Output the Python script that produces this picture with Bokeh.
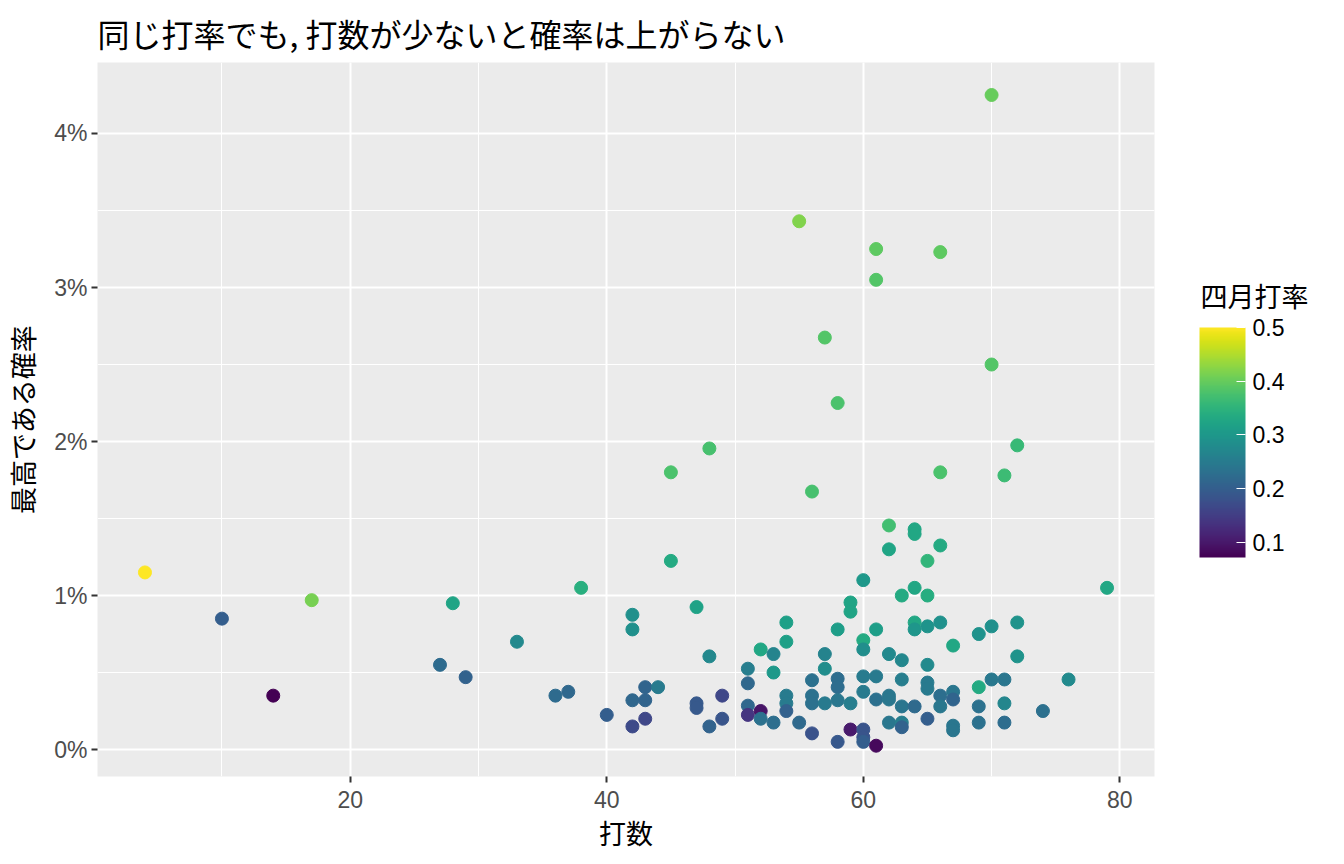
from bokeh.plotting import figure
from bokeh.models import (ColumnDataSource, Range1d, SingleIntervalTicker, NumeralTickFormatter,
                          LinearColorMapper, ColorBar, FixedTicker)
from bokeh.palettes import Viridis256
from bokeh.transform import linear_cmap
from bokeh.embed import file_html
from bokeh.resources import INLINE

# ---- data ----
at_bats = [4, 10, 14, 17, 27, 28, 29, 33, 36, 37, 38, 40,
           42, 42, 42, 42, 43, 43, 43, 44, 45, 45, 47, 47, 47,
           48, 48, 48, 49, 49, 51, 51, 51, 51, 52, 52, 52, 53, 53, 53,
           54, 54, 54, 54, 54, 55, 55, 56, 56, 56, 56, 56,
           57, 57, 57, 57, 58, 58, 58, 58, 58, 58, 59, 59, 59, 59,
           60, 60, 60, 60, 60, 60, 60, 60, 61, 61, 61, 61, 61, 61,
           62, 62, 62, 62, 62, 62, 63, 63, 63, 63, 63, 63,
           64, 64, 64, 64, 64, 64, 65, 65, 65, 65, 65, 65, 65,
           66, 66, 66, 66, 66, 66, 67, 67, 67, 67, 67,
           69, 69, 69, 69, 70, 70, 70, 70, 71, 71, 71, 71,
           72, 72, 72, 74, 76, 79]
prob_pct = [1.15, 0.85, 0.35, 0.97, 0.55, 0.95, 0.47, 0.70, 0.35, 0.375, 1.05, 0.225,
            0.875, 0.78, 0.32, 0.15, 0.405, 0.32, 0.20, 0.405, 1.80, 1.225, 0.925, 0.30, 0.27,
            1.955, 0.605, 0.15, 0.35, 0.20, 0.525, 0.43, 0.285, 0.225, 0.65, 0.25, 0.20, 0.62, 0.50, 0.175,
            0.825, 0.70, 0.35, 0.30, 0.25, 3.43, 0.175, 1.675, 0.45, 0.35, 0.30, 0.105,
            2.675, 0.62, 0.525, 0.30, 2.25, 0.78, 0.46, 0.405, 0.32, 0.05, 0.955, 0.895, 0.30, 0.13,
            1.10, 0.71, 0.65, 0.475, 0.375, 0.13, 0.08, 0.05, 3.25, 3.05, 0.78, 0.475, 0.325, 0.025,
            1.455, 1.30, 0.62, 0.35, 0.325, 0.175, 1.00, 0.58, 0.455, 0.28, 0.175, 0.145,
            1.43, 1.40, 1.05, 0.825, 0.78, 0.28, 1.225, 1.00, 0.80, 0.55, 0.435, 0.395, 0.20,
            3.23, 1.80, 1.325, 0.825, 0.35, 0.28, 0.675, 0.375, 0.325, 0.155, 0.125,
            0.75, 0.405, 0.28, 0.175, 4.25, 2.50, 0.80, 0.455, 1.78, 0.455, 0.30, 0.175,
            1.975, 0.825, 0.605, 0.25, 0.455, 1.05]
april_avg = [0.500, 0.200, 0.0714, 0.412, 0.222, 0.321, 0.207, 0.273, 0.222, 0.216, 0.342, 0.200,
             0.286, 0.286, 0.214, 0.167, 0.209, 0.209, 0.163, 0.250, 0.378, 0.333, 0.319, 0.191, 0.191,
             0.375, 0.271, 0.208, 0.163, 0.184, 0.255, 0.216, 0.216, 0.137, 0.327, 0.096, 0.231, 0.264, 0.302, 0.226,
             0.315, 0.315, 0.250, 0.250, 0.204, 0.418, 0.218, 0.375, 0.232, 0.232, 0.232, 0.179,
             0.386, 0.263, 0.281, 0.246, 0.379, 0.310, 0.224, 0.224, 0.241, 0.190, 0.322, 0.322, 0.254, 0.102,
             0.300, 0.333, 0.283, 0.250, 0.250, 0.183, 0.183, 0.200, 0.393, 0.385, 0.311, 0.246, 0.230, 0.082,
             0.371, 0.323, 0.274, 0.242, 0.242, 0.242, 0.333, 0.270, 0.254, 0.238, 0.254, 0.206,
             0.328, 0.328, 0.328, 0.328, 0.297, 0.219, 0.354, 0.338, 0.292, 0.277, 0.246, 0.246, 0.200,
             0.394, 0.379, 0.333, 0.288, 0.227, 0.242, 0.328, 0.239, 0.209, 0.239, 0.239,
             0.290, 0.333, 0.232, 0.232, 0.400, 0.386, 0.286, 0.243, 0.366, 0.239, 0.268, 0.225,
             0.361, 0.292, 0.292, 0.230, 0.276, 0.329]
x_ticks_interval = 20
y_ticks_interval = 0.01
legend_ticks = [0.1, 0.2, 0.3, 0.4, 0.5]

title_text = "同じ打率でも, 打数が少ないと確率は上がらない"
x_title = "打数"
y_title = "最高である確率"
legend_title = "四月打率"

JP = "Noto Sans CJK JP"
LAT = "Liberation Sans"

src = ColumnDataSource(dict(x=at_bats, y=[v / 100 for v in prob_pct], avg=april_avg))

lo, hi = min(april_avg), max(april_avg)
mapper = LinearColorMapper(palette=Viridis256, low=lo, high=hi)

p = figure(frame_width=1057, frame_height=714, output_backend="svg", toolbar_location=None,
           x_range=Range1d(0.3, 82.7), y_range=Range1d(-0.00175, 0.04461),
           min_border_left=88, min_border_right=183, min_border_top=62, min_border_bottom=66,
           background_fill_color="#EBEBEB", border_fill_color="white")
p.outline_line_color = None

p.scatter("x", "y", source=src, size=13,
          color=linear_cmap("avg", Viridis256, lo, hi))

# axes
p.xaxis.ticker = SingleIntervalTicker(interval=x_ticks_interval, num_minor_ticks=2)
p.yaxis.ticker = SingleIntervalTicker(interval=y_ticks_interval, num_minor_ticks=2)
p.yaxis.formatter = NumeralTickFormatter(format="0%")
for ax in (p.xaxis, p.yaxis):
    ax.axis_line_color = None
    ax.major_tick_line_color = "#333333"
    ax.major_tick_line_width = 2
    ax.major_tick_out = 6
    ax.major_tick_in = 0
    ax.minor_tick_line_color = None
    ax.major_label_text_font = LAT
    ax.major_label_text_font_size = "23px"
    ax.major_label_text_color = "#4D4D4D"
    ax.axis_label_text_font = JP
    ax.axis_label_text_font_size = "27px"
    ax.axis_label_text_font_style = "normal"
    ax.axis_label_text_color = "black"
p.xaxis.axis_label = x_title
p.yaxis.axis_label = y_title
p.xaxis.major_label_standoff = 8
p.yaxis.major_label_standoff = 4
p.xaxis.axis_label_standoff = 2
p.yaxis.axis_label_standoff = 9

# grid
p.grid.grid_line_color = "white"
p.grid.grid_line_width = 2
p.grid.minor_grid_line_color = "white"
p.grid.minor_grid_line_width = 1

# title
p.title.text = title_text
p.title.text_font = JP
p.title.text_font_size = "32px"
p.title.text_font_style = "normal"
p.title.text_color = "black"
p.title.align = "left"
p.title.offset = 0
p.title.standoff = 14

# colour bar
cb = ColorBar(color_mapper=mapper, location=(1102, 219), width=46, height=230,
              padding=0, ticker=FixedTicker(ticks=legend_ticks),
              major_label_text_font=LAT, major_label_text_font_size="23px",
              major_label_text_color="black", label_standoff=7,
              major_tick_line_color="white", major_tick_line_width=1, major_tick_in=9, major_tick_out=0,
              minor_tick_line_color=None, bar_line_color=None,
              background_fill_alpha=0, border_line_color=None)
p.add_layout(cb, "center")

# legend title carried by an invisible horizontal colour bar (drawn unrotated above its bar)
cb_title = ColorBar(color_mapper=mapper, orientation="horizontal", location=(1103, 461),
                    width=110, height=1, padding=0, scale_alpha=0,
                    ticker=FixedTicker(ticks=[]), major_label_text_alpha=0,
                    major_tick_line_color=None, minor_tick_line_color=None, bar_line_color=None,
                    title=legend_title, title_text_font=JP, title_text_font_size="27px",
                    title_text_font_style="normal", title_text_color="black", title_standoff=0,
                    background_fill_alpha=0, border_line_color=None)
p.add_layout(cb_title, "center")

open("out.html", "w").write(file_html(p, INLINE))
